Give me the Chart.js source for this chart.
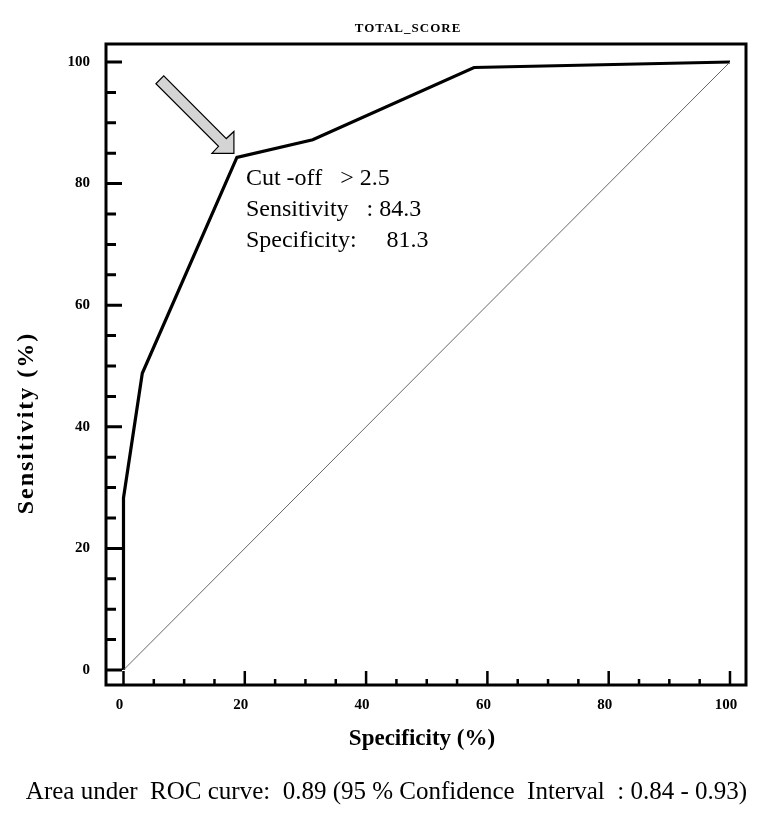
<!DOCTYPE html>
<html>
<head>
<meta charset="utf-8">
<script src="https://cdn.jsdelivr.net/npm/chart.js@4.4.1/dist/chart.umd.min.js"></script>
<style>
  html, body { margin: 0; padding: 0; background: #fff; overflow: hidden; }
  .chart-wrapper { position: relative; width: 765px; height: 817px; }
</style>
</head>
<body>
<div class="chart-wrapper"><canvas id="rocChart"></canvas></div>
<script>
// ROC curve points (x axis = 100 - specificity)
const rocX = [0, 0, 3.1, 18.7, 31.2, 57.8, 100];
const rocY = [0, 28.3, 48.8, 84.3, 87.2, 99.1, 100];
const cutoffIndex = 3;

// chance diagonal
const diagX = [0, 100];
const diagY = [0, 100];

const majorTicks = [0, 20, 40, 60, 80, 100];
const minorTicks = [5, 10, 15, 25, 30, 35, 45, 50, 55, 65, 70, 75, 85, 90, 95];

const chartTitle = 'TOTAL_SCORE';
const xTitle = 'Specificity (%)';
const yTitle = 'Sensitivity (%)';
const noteLines = ['Cut -off   > 2.5', 'Sensitivity   : 84.3', 'Specificity:     81.3'];
const footNote = 'Area under  ROC curve:  0.89 (95 % Confidence  Interval  : 0.84 - 0.93)';

const serif = '"Liberation Serif", "Times New Roman", serif';
const tickFont = { family: serif, size: 15, weight: 'bold' };

const toPoints = (xs, ys) => xs.map((v, i) => ({ x: v, y: ys[i] }));

// frame, inside ticks, arrow and texts
const decorPlugin = {
  id: 'decor',
  afterDatasetsDraw(chart) {
    const { ctx, chartArea: a, scales: { x, y } } = chart;
    ctx.save();
    ctx.strokeStyle = '#000';

    // y ticks (inside, from the left edge)
    ctx.lineWidth = 3;
    ctx.beginPath();
    majorTicks.forEach(v => { const p = y.getPixelForValue(v); ctx.moveTo(a.left, p); ctx.lineTo(a.left + 16, p); });
    minorTicks.forEach(v => { const p = y.getPixelForValue(v); ctx.moveTo(a.left, p); ctx.lineTo(a.left + 10, p); });
    ctx.stroke();

    // x ticks (inside, up from the bottom)
    ctx.lineWidth = 2.5;
    ctx.beginPath();
    majorTicks.forEach(v => { const p = x.getPixelForValue(v); ctx.moveTo(p, a.bottom); ctx.lineTo(p, a.bottom - 14); });
    minorTicks.forEach(v => { const p = x.getPixelForValue(v); ctx.moveTo(p, a.bottom); ctx.lineTo(p, a.bottom - 6); });
    ctx.stroke();

    // frame
    ctx.lineWidth = 3;
    ctx.strokeRect(a.left, a.top, a.right - a.left, a.bottom - a.top);

    // arrow pointing at the cut-off point
    const cx = x.getPixelForValue(rocX[cutoffIndex]);
    const cy = y.getPixelForValue(rocY[cutoffIndex]);
    const tx = cx - 3, ty = cy - 4;
    const arrow = [[0, 0], [-22, 0], [-15.4, -7.1], [-78, -69.7], [-70.2, -77.5], [-7.6, -14.9], [0, -22]];
    ctx.beginPath();
    arrow.forEach(([dx, dy], i) => i ? ctx.lineTo(tx + dx, ty + dy) : ctx.moveTo(tx + dx, ty + dy));
    ctx.closePath();
    ctx.fillStyle = '#d4d4d4';
    ctx.fill();
    ctx.lineWidth = 1.2;
    ctx.lineJoin = 'miter';
    ctx.stroke();

    // annotation
    ctx.fillStyle = '#000';
    ctx.font = '24px ' + serif;
    ctx.textAlign = 'left';
    ctx.textBaseline = 'alphabetic';
    noteLines.forEach((t, i) => ctx.fillText(t, cx + 9, cy + 28 + i * 31));

    // title
    ctx.font = 'bold 13px ' + serif;
    ctx.textAlign = 'center';
    ctx.textBaseline = 'middle';
    ctx.letterSpacing = '1px';
    ctx.fillText(chartTitle, 408, 29);

    // x axis title
    ctx.font = 'bold 23px ' + serif;
    ctx.letterSpacing = '0px';
    ctx.fillText(xTitle, 422, 739);

    // y axis title
    ctx.save();
    ctx.translate(27, 423);
    ctx.rotate(-Math.PI / 2);
    ctx.font = 'bold 24px ' + serif;
    ctx.letterSpacing = '2px';
    ctx.fillText(yTitle, 0, 0);
    ctx.restore();

    // footnote
    ctx.letterSpacing = '0px';
    ctx.font = '25px ' + serif;
    ctx.textBaseline = 'alphabetic';
    ctx.fillText(footNote, 386.5, 799);

    ctx.restore();
  }
};

const fixTicks = scale => { scale.ticks = majorTicks.map(v => ({ value: v })); };

new Chart(document.getElementById('rocChart'), {
  type: 'scatter',
  data: {
    datasets: [
      {
        data: toPoints(diagX, diagY),
        showLine: true,
        borderColor: '#666',
        borderWidth: 1,
        pointRadius: 0
      },
      {
        data: toPoints(rocX, rocY),
        showLine: true,
        borderColor: '#000',
        borderWidth: 3.2,
        borderJoinStyle: 'miter',
        pointRadius: 0
      }
    ]
  },
  options: {
    responsive: true,
    maintainAspectRatio: false,
    animation: false,
    layout: { padding: { left: 0, top: 44, right: 19, bottom: 0 } },
    scales: {
      x: {
        type: 'linear',
        min: -2.885,
        max: 102.64,
        afterBuildTicks: fixTicks,
        afterFit: s => { s.height = 132; },
        grid: { display: false, drawTicks: false },
        border: { display: false },
        ticks: { color: '#000', font: tickFont, padding: 11, labelOffset: -4, maxRotation: 0, autoSkip: false }
      },
      y: {
        type: 'linear',
        min: -2.47,
        max: 102.96,
        afterBuildTicks: fixTicks,
        afterFit: s => { s.width = 106; },
        grid: { display: false, drawTicks: false },
        border: { display: false },
        ticks: { color: '#000', font: tickFont, padding: 16, autoSkip: false }
      }
    },
    plugins: {
      legend: { display: false },
      tooltip: { enabled: false }
    }
  },
  plugins: [decorPlugin]
});
</script>
</body>
</html>
